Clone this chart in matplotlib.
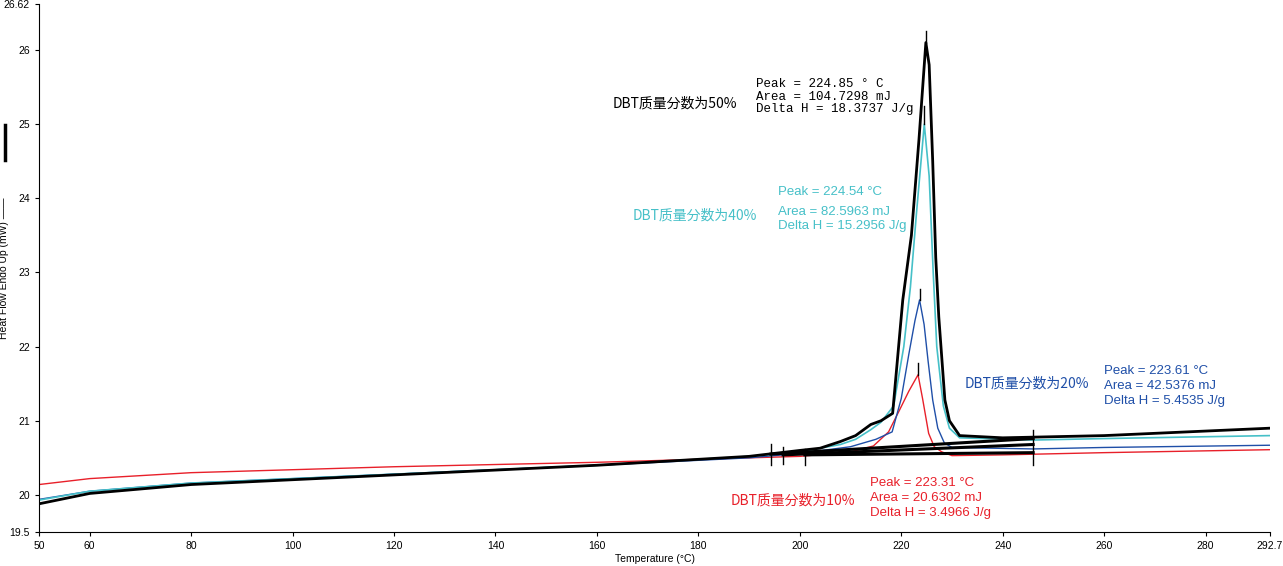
import matplotlib.pyplot as plt
from matplotlib.lines import Line2D

# DSC curves: temperature (°C) and heat flow (mW)
t_red = [50, 60, 80, 120, 160, 190, 200, 210, 214.5, 217.5, 219.7, 221.5, 223.31, 224.2, 225.4, 226.5, 228, 230, 240, 260, 292.7]
hf_red = [20.14, 20.22, 20.3, 20.38, 20.44, 20.5, 20.52, 20.58, 20.66, 20.85, 21.15, 21.4, 21.62, 21.3, 20.83, 20.65, 20.58, 20.53, 20.54, 20.57, 20.61]

t_blue = [50, 60, 80, 120, 160, 190, 200, 210, 215, 218.2, 220, 221.5, 222.7, 223.61, 224.5, 225.3, 226.2, 227.2, 228.5, 230, 246, 260, 292.7]
hf_blue = [19.94, 20.05, 20.16, 20.28, 20.4, 20.5, 20.56, 20.65, 20.75, 20.85, 21.3, 21.9, 22.35, 22.63, 22.3, 21.8, 21.28, 20.9, 20.7, 20.64, 20.62, 20.64, 20.67]

t_cyan = [50, 60, 80, 120, 160, 190, 200, 208, 211, 214, 216, 218.5, 220.5, 221.8, 223, 224.54, 225.5, 226.3, 227, 228.3, 229.5, 231.5, 246, 260, 292.7]
hf_cyan = [19.93, 20.05, 20.16, 20.28, 20.4, 20.52, 20.58, 20.68, 20.75, 20.88, 20.98, 21.2, 22.0, 22.8, 23.8, 25.0, 24.3, 23.0, 22.0, 21.2, 20.9, 20.77, 20.74, 20.76, 20.8]

t_black = [50, 60, 80, 120, 160, 190, 200, 204, 208, 211, 214, 216, 218.3, 220.3, 222, 223.5, 224.85, 225.5, 226.2, 226.8, 227.4, 228.6, 229.5, 231.5, 240, 260, 292.7]
hf_black = [19.88, 20.02, 20.14, 20.27, 20.4, 20.52, 20.6, 20.63, 20.72, 20.8, 20.95, 21.0, 21.1, 22.63, 23.5, 24.8, 26.1, 25.8, 24.5, 23.2, 22.4, 21.28, 21.0, 20.8, 20.77, 20.8, 20.9]

# integration baselines (start T, start HF, end T, end HF)
baselines = [(194.3, 20.55, 246, 20.76), (196.7, 20.54, 246, 20.68), (201, 20.54, 246, 20.57)]
limit_marks = [(194.3, 20.4, 20.68), (196.7, 20.42, 20.65), (201, 20.4, 20.62), (246, 20.4, 20.88)]
peak_marks = [(224.85, 26.1, 26.25), (224.54, 25.0, 25.25), (223.61, 22.63, 22.78), (223.31, 21.62, 21.78)]

x_ticks = [50, 60, 80, 100, 120, 140, 160, 180, 200, 220, 240, 260, 280, 292.7]
x_labels = ['50', '60', '80', '100', '120', '140', '160', '180', '200', '220', '240', '260', '280', '292.7']
y_ticks = [19.5, 20, 21, 22, 23, 24, 25, 26, 26.62]
y_labels = ['19.5', '20', '21', '22', '23', '24', '25', '26', '26.62']

plt.rcParams['font.family'] = ['Liberation Sans', 'Noto Sans CJK SC', 'Noto Sans CJK JP', 'DejaVu Sans']
cjk = ['Noto Sans CJK SC', 'Noto Sans CJK JP', 'Noto Sans CJK TC', 'DejaVu Sans']

fig = plt.figure(figsize=(12.83, 5.66), dpi=100)
ax = fig.add_axes([39 / 1283, 1 - 532 / 566, 1231 / 1283, 528 / 566])

ax.plot(t_red, hf_red, color='#e8202a', lw=1)
ax.plot(t_blue, hf_blue, color='#1f4fa8', lw=1)
ax.plot(t_cyan, hf_cyan, color='#46c0c8', lw=1.2)
ax.plot(t_black, hf_black, color='black', lw=2)

for x0, y0, x1, y1 in baselines:
    ax.plot([x0, x1], [y0, y1], color='black', lw=2.2)
for x, y0, y1 in limit_marks + peak_marks:
    ax.plot([x, x], [y0, y1], color='black', lw=1)

ax.set_xlim(50, 292.7)
ax.set_ylim(19.5, 26.62)
ax.set_xticks(x_ticks)
ax.set_xticklabels(x_labels)
ax.set_yticks(y_ticks)
ax.set_yticklabels(y_labels)
ax.tick_params(labelsize=7.5, direction='out', length=3)
ax.spines['top'].set_visible(False)
ax.spines['right'].set_visible(False)
ax.set_xlabel('Temperature (°C)', fontsize=7.5, labelpad=2)
ax.set_ylabel('Heat Flow Endo Up (mW) ——', fontsize=7.5)
ax.yaxis.set_label_coords(-30 / 1231, 0.5)
fig.add_artist(Line2D([5 / 1283, 5 / 1283], [1 - 160 / 566, 1 - 125 / 566], color='black', lw=2.5))

ax.text(175.4, 25.28, 'DBT质量分数为50%', fontsize=10, family=cjk, color='black', ha='center', va='center')
ax.text(191.4, 25.62, 'Peak = 224.85 ° C\nArea = 104.7298 mJ\nDelta H = 18.3737 J/g',
        fontsize=9, family='Liberation Mono', color='black', linespacing=1.05, va='top')
ax.text(179.3, 23.77, 'DBT质量分数为40%', fontsize=10, family=cjk, color='#46c0c8', ha='center', va='center')
ax.text(195.7, 24.08, 'Peak = 224.54 °C', fontsize=9.5, color='#46c0c8', va='center')
ax.text(195.7, 23.9, 'Area = 82.5963 mJ\nDelta H = 15.2956 J/g', fontsize=9.5,
        color='#46c0c8', linespacing=1.3, va='top')
ax.text(244.8, 21.5, 'DBT质量分数为20%', fontsize=10, family=cjk, color='#1f4fa8', ha='center', va='center')
ax.text(260, 21.75, 'Peak = 223.61 °C\nArea = 42.5376 mJ\nDelta H = 5.4535 J/g', fontsize=9.5,
        color='#1f4fa8', linespacing=1.3, va='top')
ax.text(198.7, 19.93, 'DBT质量分数为10%', fontsize=10, family=cjk, color='#e8202a', ha='center', va='center')
ax.text(213.8, 20.24, 'Peak = 223.31 °C\nArea = 20.6302 mJ\nDelta H = 3.4966 J/g', fontsize=9.5,
        color='#e8202a', linespacing=1.3, va='top')

fig.savefig('out.png', dpi=100)
